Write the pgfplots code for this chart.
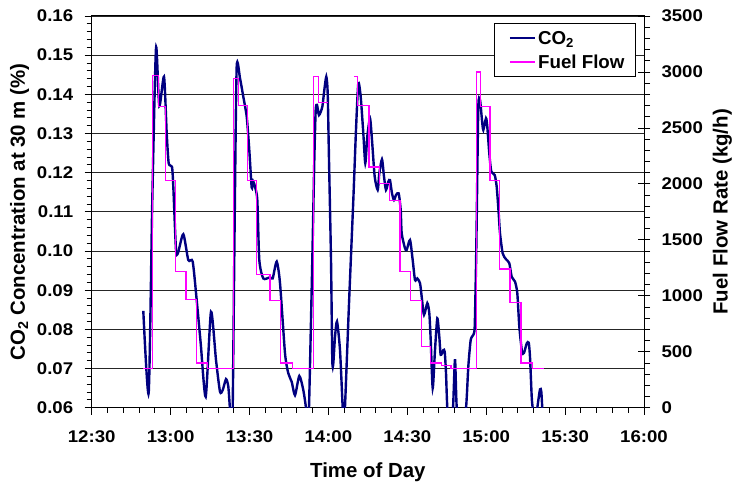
\documentclass[border=0pt]{standalone}
\usepackage{fontspec}
\setmainfont{Liberation Sans}
\newfontfamily\tickfont[FakeStretch=1.1]{Liberation Sans}
\usepackage{pgfplots}
\pgfplotsset{compat=1.18}
\definecolor{conavy}{HTML}{000080}
\definecolor{fuelmag}{HTML}{FF00FF}
\begin{document}
\begin{tikzpicture}
\begin{axis}[
 name=ax, at={(0,0)}, anchor=south west,
 width=552.3bp, height=391.7bp, scale only axis,
 xmin=30, xmax=240, ymin=0.06, ymax=0.16,
 xtick={30,60,90,120,150,180,210,240},
 xticklabels={12:30,13:00,13:30,14:00,14:30,15:00,15:30,16:00},
 minor x tick num=4,
 ytick={0.06,0.07,0.08,0.09,0.10,0.11,0.12,0.13,0.14,0.15,0.16},
 minor y tick num=4,
 tick align=outside,
 xtick pos=left, ytick pos=left,
 major tick length=7bp, minor tick length=5bp,
 ymajorgrids, major grid style={black!85, line width=0.8bp},
 axis line style={black, line width=1bp},
 every tick/.style={black, line width=0.8bp},
 /pgf/number format/assume math mode=true,
 yticklabel style={/pgf/number format/.cd, fixed, fixed zerofill, precision=2, /tikz/.cd, xshift=-8bp},
 xticklabel style={yshift=-12bp},
 tick label style={font=\tickfont\bfseries\fontsize{17}{20}\selectfont},
 ylabel={CO\textsubscript{2} Concentration at 30 m (\%)},
 xlabel={Time of Day},
 label style={font=\bfseries\fontsize{20.5}{24}\selectfont},
 ylabel style={at={([xshift=-72bp]axis description cs:0,0.5)}, anchor=center},
 xlabel style={at={([yshift=-69.3bp]axis description cs:0.5,0)}, anchor=base},
 clip=true,
]
\addplot[conavy, line width=2.4bp, smooth, tension=0.4] coordinates {
(49.62,0.0847) (51.67,0.0638) (53.04,0.1130) (54.45,0.1518) (55.70,0.1370)
(57.49,0.1445) (58.52,0.1301) (59.28,0.1224) (60.53,0.1215) (61.03,0.1164)
(62.05,0.1003) (62.81,0.0995) (64.83,0.1043) (66.73,0.0977) (68.40,0.0973)
(69.92,0.0875) (71.45,0.0764) (73.35,0.0628) (75.36,0.0845) (77.26,0.0722)
(78.78,0.0641) (79.81,0.0645) (81.07,0.0673) (81.94,0.0654) (82.59,0.0594)
(83.10,0.0540) (83.60,0.0594) (84.40,0.1100) (85.13,0.1470) (86.39,0.1441)
(87.64,0.1394) (88.94,0.1343) (89.92,0.1258) (90.84,0.1162) (91.44,0.1177)
(92.09,0.1164) (92.97,0.1130) (93.73,0.0977) (95.25,0.0930) (97.80,0.0933)
(98.82,0.0930) (100.34,0.0973) (101.60,0.0918) (103.50,0.0739) (104.75,0.0688)
(106.05,0.0666) (107.30,0.0632) (108.94,0.0681) (110.46,0.0645) (111.48,0.0599)
(112.05,0.0550) (112.62,0.0599) (113.88,0.0977) (114.64,0.1232) (115.17,0.1360)
(115.67,0.1373) (116.43,0.1347) (117.68,0.1368) (118.44,0.1411) (119.20,0.1445)
(119.73,0.1403) (120.23,0.1232) (120.99,0.0977) (121.48,0.0722) (121.86,0.0713)
(122.51,0.0781) (123.27,0.0820) (124.41,0.0747) (125.44,0.0599) (125.86,0.0556)
(126.29,0.0599) (127.83,0.0865) (129.47,0.1130) (130.49,0.1309) (131.37,0.1428)
(132.28,0.1394) (133.27,0.1301) (134.03,0.1224) (134.79,0.1292) (135.82,0.1339)
(136.58,0.1283) (137.60,0.1190) (138.75,0.1156) (139.35,0.1198) (140.38,0.1234)
(141.14,0.1190) (141.90,0.1156) (142.78,0.1177) (143.42,0.1181) (144.18,0.1147)
(144.94,0.1130) (145.70,0.1143) (146.73,0.1147) (147.49,0.1105) (147.87,0.1045)
(149.13,0.1007) (149.77,0.1003) (151.03,0.1028) (152.05,0.0977) (152.93,0.0926)
(153.80,0.0930) (154.83,0.0918) (155.48,0.0883) (156.35,0.0837) (157.61,0.0867)
(158.37,0.0841) (158.90,0.0773) (159.66,0.0650) (160.53,0.0747) (161.41,0.0828)
(162.17,0.0781) (162.70,0.0735) (163.69,0.0747) (164.22,0.0743) (164.72,0.0688)
(165.21,0.0599) (166.24,0.0520) (167.38,0.0599) (168.14,0.0724) (168.78,0.0603)
(170.42,0.0520) (172.32,0.0599) (173.20,0.0705) (174.11,0.0773) (175.10,0.0786)
(175.63,0.0807) (176.12,0.0960) (176.39,0.1079) (177.00,0.1368) (177.64,0.1386)
(178.40,0.1334) (178.90,0.1309) (179.93,0.1339) (180.42,0.1317) (181.18,0.1249)
(181.94,0.1203) (183.23,0.1194) (183.99,0.1164) (184.75,0.1096) (185.25,0.1045)
(186.27,0.0994) (187.53,0.0979) (188.78,0.0969) (189.70,0.0934) (190.95,0.0922)
(191.83,0.0892) (192.59,0.0807) (193.61,0.0743) (194.37,0.0740) (195.40,0.0764)
(196.16,0.0766) (196.65,0.0730) (197.30,0.0628) (197.68,0.0599) (198.56,0.0540)
(199.43,0.0599) (200.46,0.0647) (200.95,0.0641) (201.33,0.0599) (201.79,0.0569)
};
\end{axis}
\begin{axis}[
 at={(0,0)}, anchor=south west,
 width=552.3bp, height=391.7bp, scale only axis,
 xmin=30, xmax=240, ymin=0, ymax=3500,
 axis y line*=right, axis x line=none,
 ytick={0,500,1000,1500,2000,2500,3000,3500},
 minor y tick num=4,
 tick align=outside,
 major tick length=6bp, minor tick length=6bp,
 extra y ticks={0,500,1000,1500,2000,2500,3000,3500},
 extra y tick labels={},
 extra y tick style={tick align=center, major tick length=12bp},
 axis line style={black, line width=1bp},
 every tick/.style={black, line width=0.8bp},
 /pgf/number format/assume math mode=true,
 /pgf/number format/set thousands separator={},
 yticklabel style={xshift=8bp},
 tick label style={font=\tickfont\bfseries\fontsize{17}{20}\selectfont},
 ylabel={Fuel Flow Rate (kg/h)},
 label style={font=\bfseries\fontsize{20.5}{24}\selectfont},
 ylabel style={at={([xshift=78.5bp]axis description cs:1,0.5)}, anchor=center},
 legend style={at={(0.9855,0.981)}, anchor=north east, draw=black, line width=1bp, fill=white,
   font=\bfseries\fontsize{18.8}{22}\selectfont, inner xsep=9bp, inner ysep=5bp, row sep=5bp,
   cells={anchor=west}},
 clip=true,
]
\addlegendimage{legend image code/.code={\path (-6bp,0bp); \draw[conavy, line width=2.4bp] (0bp,0bp) -- (25bp,0bp);}}
\addlegendentry{CO\textsubscript{2}}
\addlegendimage{legend image code/.code={\path (-6bp,0bp); \draw[draw=fuelmag, line width=1.4bp] (0bp,0bp) -- (25bp,0bp);}}
\addlegendentry{Fuel Flow}
\addplot[fuelmag, line width=1.2bp, const plot, forget plot] coordinates {
(49.62,350) (53.12,2970) (55.32,2690) (58.14,2030) (61.94,1220) (65.86,970)
(69.92,400) (74.11,350) (83.92,2940) (85.74,2700) (89.16,2030) (92.74,1190)
(97.80,960) (101.86,400) (106.43,350) (114.26,2960) (116.16,2730) (119.96,2730)
};
\addplot[fuelmag, line width=1.2bp, const plot, forget plot] coordinates {
(129.85,2960) (130.99,2700) (135.44,2150) (139.35,2000) (143.16,1850) (147.22,1220)
(151.29,960) (155.48,550) (158.90,400) (163.08,380) (166.62,350) (176.20,3000)
(177.91,2690) (181.45,2030) (184.98,1240) (189.05,940) (193.23,400) (197.53,350)
(202.09,350)
};
\end{axis}
\pgfresetboundingbox
\path[use as bounding box] (-91.7bp,-74.3bp) rectangle (641.3bp,407.7bp);
\end{tikzpicture}
\end{document}
